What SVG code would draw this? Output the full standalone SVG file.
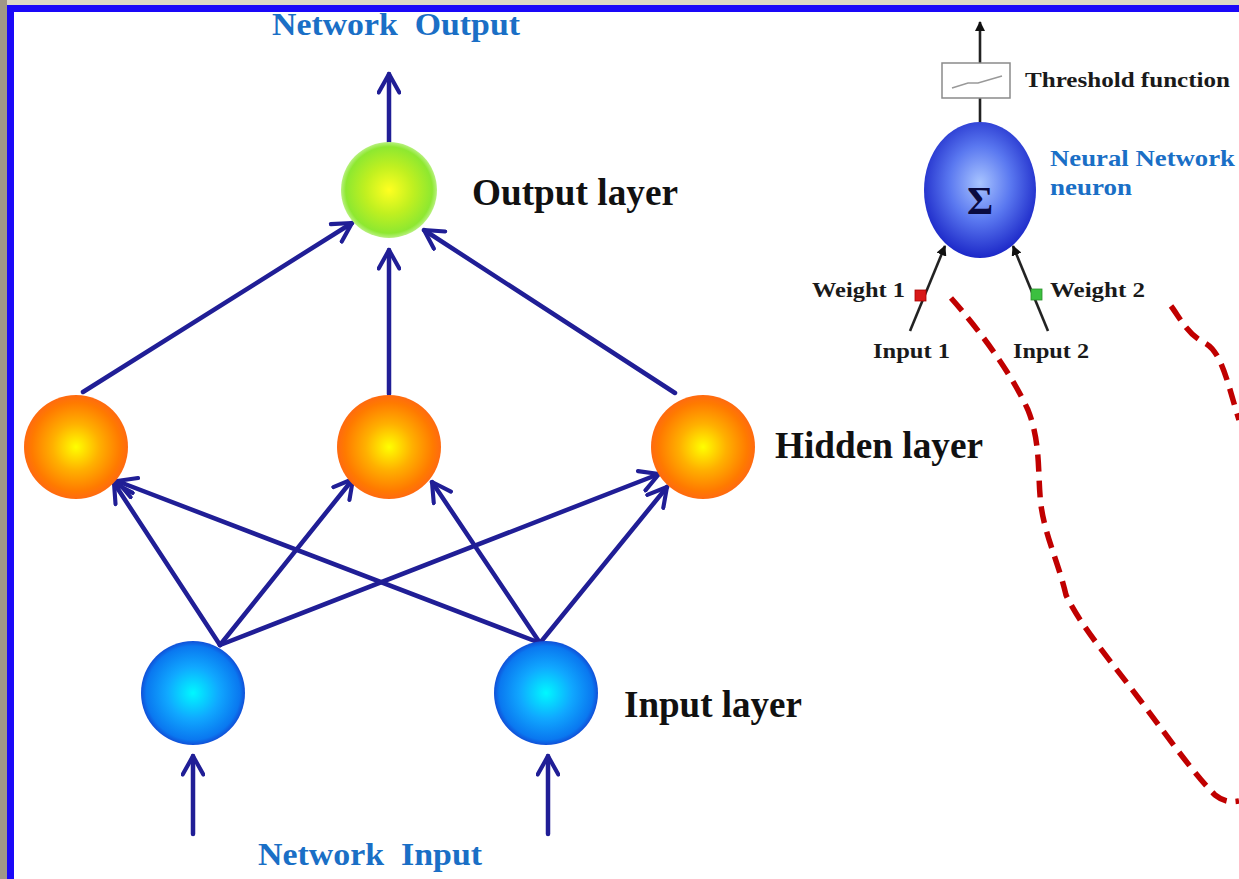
<svg xmlns="http://www.w3.org/2000/svg" width="1239" height="879" viewBox="0 0 1239 879">
<defs>
<style>
.edge{stroke:#201e96;stroke-width:4.5;fill:none;stroke-linecap:round;marker-end:url(#ah)}
.thin{stroke:#222;stroke-width:2.6;fill:none;marker-end:url(#ahs)}
.lbl{font-family:"Liberation Serif",serif;font-weight:bold;fill:#111}
.blue{font-family:"Liberation Serif",serif;font-weight:bold;fill:#1a6fc6}
.small{font-family:"Liberation Serif",serif;font-weight:bold;fill:#1a1a1a;font-size:22px}
.dash{stroke:#c00000;stroke-width:5.5;fill:none;stroke-dasharray:17 9}
</style>
<marker id="ah" viewBox="0 0 12 12" refX="10" refY="6" markerWidth="5.5" markerHeight="5.5" orient="auto" markerUnits="strokeWidth">
<path d="M1,1 L10,6 L1,11" fill="none" stroke="#201e96" stroke-width="2" stroke-linecap="round" stroke-linejoin="round"/>
</marker>
<marker id="ahs" viewBox="0 0 10 10" refX="9" refY="5" markerWidth="4" markerHeight="4" orient="auto" markerUnits="strokeWidth">
<path d="M0,0 L10,5 L0,10 z" fill="#111"/>
</marker>
<radialGradient id="gOrange" cx="0.5" cy="0.5" r="0.5">
<stop offset="0" stop-color="#ffff00"/>
<stop offset="0.45" stop-color="#ffb000"/>
<stop offset="0.85" stop-color="#ff7a00"/>
<stop offset="1" stop-color="#ff6a10"/>
</radialGradient>
<radialGradient id="gGreen" cx="0.5" cy="0.5" r="0.5">
<stop offset="0" stop-color="#ffff20"/>
<stop offset="0.5" stop-color="#c0f020"/>
<stop offset="0.9" stop-color="#8ee830"/>
<stop offset="1" stop-color="#b8f080"/>
</radialGradient>
<radialGradient id="gBlue" cx="0.5" cy="0.5" r="0.5">
<stop offset="0" stop-color="#00f8ff"/>
<stop offset="0.5" stop-color="#10a8ff"/>
<stop offset="0.9" stop-color="#0a78f0"/>
<stop offset="1" stop-color="#1050d8"/>
</radialGradient>
<radialGradient id="gNeuron" cx="0.5" cy="0.45" r="0.55">
<stop offset="0" stop-color="#a8c4ff"/>
<stop offset="0.5" stop-color="#5a78f0"/>
<stop offset="1" stop-color="#1c28c8"/>
</radialGradient>
</defs>
<rect x="0" y="0" width="1239" height="879" fill="#ffffff"/>
<rect x="0" y="0" width="1239" height="5" fill="#dcd8c6"/>
<rect x="0" y="0" width="7" height="879" fill="#a09888"/>
<rect x="7" y="5" width="1232" height="7" fill="#1a08f8"/>
<rect x="7" y="5" width="7" height="874" fill="#1a08f8"/>

<g id="connectors">
<line class="edge" x1="389" y1="142" x2="389" y2="74"/>
<line class="edge" x1="83" y1="392" x2="352" y2="223"/>
<line class="edge" x1="389" y1="394" x2="389" y2="250"/>
<line class="edge" x1="675" y1="393" x2="424" y2="230"/>
<line class="edge" x1="220" y1="645" x2="114" y2="483"/>
<line class="edge" x1="220" y1="645" x2="353" y2="479"/>
<line class="edge" x1="220" y1="645" x2="659" y2="474"/>
<line class="edge" x1="540" y1="643" x2="117" y2="481"/>
<line class="edge" x1="540" y1="643" x2="432" y2="482"/>
<line class="edge" x1="540" y1="643" x2="667" y2="487"/>
<line class="edge" x1="193" y1="834" x2="193" y2="756"/>
<line class="edge" x1="548" y1="834" x2="548" y2="756"/>
<line class="thin" x1="980" y1="63" x2="980" y2="22"/>
<line x1="980" y1="98" x2="980" y2="124" stroke="#222" stroke-width="2.6"/>
<line class="thin" x1="910" y1="331" x2="945" y2="246"/>
<line class="thin" x1="1048" y1="331" x2="1013" y2="246"/>
</g>

<g id="output-node"><circle cx="389" cy="190" r="48" fill="url(#gGreen)"/></g>
<g id="hidden-1"><circle cx="76" cy="447" r="52" fill="url(#gOrange)"/></g>
<g id="hidden-2"><circle cx="389" cy="447" r="52" fill="url(#gOrange)"/></g>
<g id="hidden-3"><circle cx="703" cy="447" r="52" fill="url(#gOrange)"/></g>
<g id="input-1"><circle cx="193" cy="693" r="52" fill="url(#gBlue)"/></g>
<g id="input-2"><circle cx="546" cy="693" r="52" fill="url(#gBlue)"/></g>

<g id="labels">
<text class="blue" x="272" y="35" font-size="32" textLength="248" lengthAdjust="spacingAndGlyphs" xml:space="preserve">Network  Output</text>
<text class="lbl" x="472" y="205" font-size="38" textLength="206" lengthAdjust="spacingAndGlyphs">Output layer</text>
<text class="lbl" x="775" y="458" font-size="38" textLength="208" lengthAdjust="spacingAndGlyphs">Hidden layer</text>
<text class="lbl" x="624" y="717" font-size="38" textLength="178" lengthAdjust="spacingAndGlyphs">Input layer</text>
<text class="blue" x="258" y="865" font-size="32" textLength="224" lengthAdjust="spacingAndGlyphs" xml:space="preserve">Network  Input</text>
</g>

<g id="neuron">
<ellipse cx="980" cy="190" rx="56" ry="68" fill="url(#gNeuron)"/>
<text x="980" y="214" font-family="Liberation Serif,serif" font-weight="bold" font-size="40" fill="#0a0a40" text-anchor="middle">Σ</text>
<text class="blue" x="1050" y="166" font-size="23" textLength="185" lengthAdjust="spacingAndGlyphs">Neural Network</text>
<text class="blue" x="1050" y="195" font-size="23" textLength="82" lengthAdjust="spacingAndGlyphs">neuron</text>
</g>

<g id="threshold">
<rect x="942" y="63" width="68" height="35" fill="#ffffff" stroke="#8a8a8a" stroke-width="1.5"/>
<path d="M952,88 L968,83 L978,83 L1002,76" fill="none" stroke="#999" stroke-width="1.5"/>
<text class="small" x="1025" y="87" textLength="205" lengthAdjust="spacingAndGlyphs">Threshold function</text>
</g>

<g id="weight-1">
<rect x="915" y="290" width="11" height="11" fill="#d81818" stroke="#a00" stroke-width="0.8"/>
<text class="small" x="812" y="297" textLength="93" lengthAdjust="spacingAndGlyphs">Weight 1</text>
</g>
<g id="weight-2">
<rect x="1031" y="289" width="11" height="11" fill="#3cc040" stroke="#2a902a" stroke-width="0.8"/>
<text class="small" x="1050" y="297" textLength="95" lengthAdjust="spacingAndGlyphs">Weight 2</text>
</g>
<g id="input-1-label"><text class="small" x="873" y="358" textLength="77" lengthAdjust="spacingAndGlyphs">Input 1</text></g>
<g id="input-2-label"><text class="small" x="1013" y="358" textLength="76" lengthAdjust="spacingAndGlyphs">Input 2</text></g>

<g id="dashed-curves">
<path class="dash" d="M951,298 C975,325 1010,370 1028,410 C1040,440 1038,470 1040,495 C1042,530 1058,560 1066,595 C1080,625 1110,660 1140,700 C1170,740 1195,775 1215,795 C1225,803 1233,802 1239,801"/>
<path class="dash" d="M1171,306 C1180,318 1188,335 1205,343 C1222,352 1228,385 1239,420"/>
</g>
</svg>
